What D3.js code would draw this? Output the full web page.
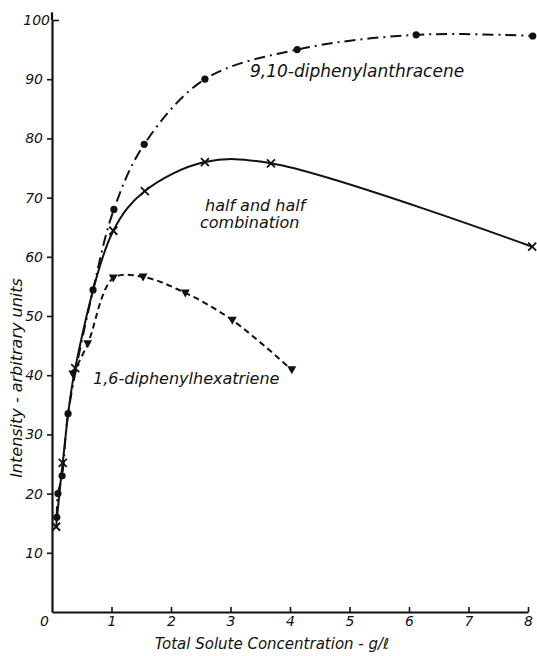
<!DOCTYPE html>
<html>
<head>
<meta charset="utf-8">
<script src="https://cdn.jsdelivr.net/npm/d3@7"></script>
<style>
  body { margin: 0; background: #fff; }
  text { font-family: "DejaVu Sans", sans-serif; font-style: italic; fill: #111; }
</style>
</head>
<body>
<script>
// concentration (g/l) and intensity
const dpaX = [0.08, 0.10, 0.17, 0.27, 0.69, 1.04, 1.55, 2.57, 4.12, 6.12, 8.08];
const dpaY = [16, 20, 23, 33.5, 54.4, 68, 79, 90, 95, 97.5, 97.3];

const halfX = [0.07, 0.18, 0.39, 1.03, 1.56, 2.57, 3.68, 8.07];
const halfY = [14.4, 25.2, 41.2, 64.4, 71.1, 76, 75.8, 61.7];

const dphX = [0.35, 0.60, 1.03, 1.53, 2.24, 3.03, 4.03];
const dphY = [40.2, 45.3, 56.4, 56.6, 53.9, 49.3, 40.9];

const xTicks = [0, 1, 2, 3, 4, 5, 6, 7, 8];
const yTicks = [10, 20, 30, 40, 50, 60, 70, 80, 90, 100];

const width = 537;
const height = 656;

const svg = d3.select("body")
  .append("svg")
  .attr("width", width)
  .attr("height", height);

const x = d3.scaleLinear().domain([0, 8]).range([52, 528]);
const y = d3.scaleLinear().domain([0, 100]).range([612, 20]);

// axes
const xAxis = svg.append("g")
  .attr("transform", `translate(0,${y(0)})`)
  .call(d3.axisBottom(x).tickValues(xTicks).tickSizeInner(-5).tickSizeOuter(0).tickPadding(4));

const yAxis = svg.append("g")
  .attr("transform", `translate(${x(0)},0)`)
  .call(d3.axisLeft(y).tickValues(yTicks).tickSizeInner(5).tickSizeOuter(0).tickPadding(4));

[xAxis, yAxis].forEach(g => {
  g.select(".domain").attr("stroke", "#111").attr("stroke-width", 2.2);
  g.selectAll(".tick line").attr("stroke", "#111").attr("stroke-width", 1.6);
  g.selectAll(".tick text")
    .style("font-family", "DejaVu Sans, sans-serif")
    .style("font-style", "italic")
    .style("font-size", "14px")
    .attr("fill", "#111");
});

xAxis.selectAll(".tick").filter(d => d === 0).select("line").remove();
xAxis.selectAll(".tick").filter(d => d === 0).select("text").attr("x", -8);

// the 100 tick points inward
yAxis.selectAll(".tick").filter(d => d === 100).select("line").attr("x2", 7);
yAxis.selectAll(".tick").filter(d => d === 100).select("text").attr("x", -2);

// y axis runs a bit above 100
svg.append("line")
  .attr("x1", x(0)).attr("x2", x(0))
  .attr("y1", y(100)).attr("y2", y(101.3))
  .attr("stroke", "#111").attr("stroke-width", 2.2);

// axis titles
svg.append("text")
  .attr("x", 272).attr("y", 649)
  .attr("text-anchor", "middle")
  .style("font-size", "15px")
  .text("Total Solute Concentration - g/ℓ");

svg.append("text")
  .attr("transform", "translate(22,378) rotate(-90)")
  .attr("text-anchor", "middle")
  .style("font-size", "16px")
  .text("Intensity - arbitrary units");

// curves
const line = d3.line()
  .x(d => x(d[0]))
  .y(d => y(d[1]))
  .curve(d3.curveCatmullRom.alpha(0.5));

const dpa = d3.zip(dpaX, dpaY);
const half = d3.zip(halfX, halfY);
const dph = d3.zip(dphX, dphY);

svg.append("path")
  .datum(dpa)
  .attr("d", line)
  .attr("fill", "none")
  .attr("stroke", "#111")
  .attr("stroke-width", 2)
  .attr("stroke-dasharray", "11,5,2,5");

svg.append("path")
  .datum(half)
  .attr("d", line)
  .attr("fill", "none")
  .attr("stroke", "#111")
  .attr("stroke-width", 2);

svg.append("path")
  .datum(dph)
  .attr("d", line)
  .attr("fill", "none")
  .attr("stroke", "#111")
  .attr("stroke-width", 2)
  .attr("stroke-dasharray", "6,4");

// markers
svg.selectAll(".dot")
  .data(dpa)
  .enter()
  .append("circle")
  .attr("class", "dot")
  .attr("cx", d => x(d[0]))
  .attr("cy", d => y(d[1]))
  .attr("r", 3.6)
  .attr("fill", "#111");

svg.selectAll(".cross")
  .data(half)
  .enter()
  .append("path")
  .attr("class", "cross")
  .attr("transform", d => `translate(${x(d[0])},${y(d[1])})`)
  .attr("d", "M-4,-4L4,4M-4,4L4,-4")
  .attr("stroke", "#111")
  .attr("stroke-width", 1.8);

svg.selectAll(".tri")
  .data(dph)
  .enter()
  .append("path")
  .attr("class", "tri")
  .attr("transform", d => `translate(${x(d[0])},${y(d[1])})`)
  .attr("d", "M-4.5,-3.5L4.5,-3.5L0,4.5Z")
  .attr("fill", "#111");

// curve labels
svg.append("text")
  .attr("x", 250).attr("y", 77)
  .style("font-size", "17px")
  .text("9,10-diphenylanthracene");

svg.append("text")
  .attr("x", 205).attr("y", 211)
  .style("font-size", "16px")
  .text("half and half");

svg.append("text")
  .attr("x", 200).attr("y", 228)
  .style("font-size", "16px")
  .text("combination");

svg.append("text")
  .attr("x", 93).attr("y", 384)
  .style("font-size", "16px")
  .text("1,6-diphenylhexatriene");
</script>
</body>
</html>
